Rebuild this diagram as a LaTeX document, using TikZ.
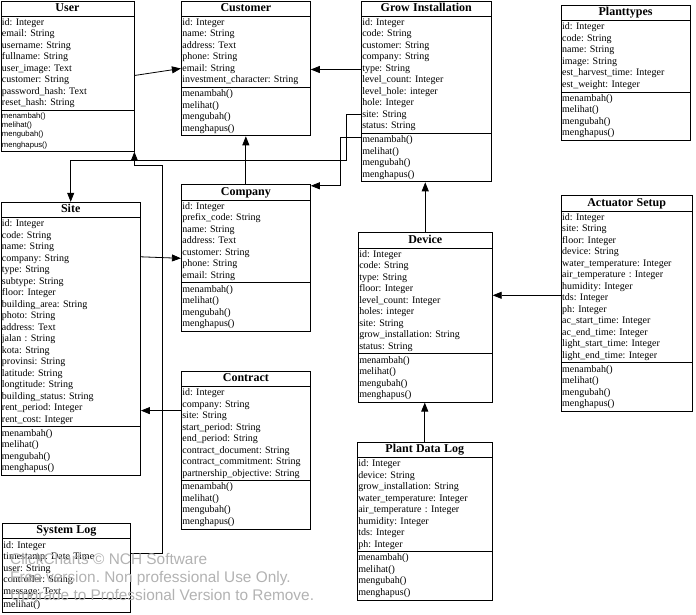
\documentclass[tikz,border=0pt]{standalone}
\usepackage{fontspec}
\setmainfont{Liberation Serif}
\setsansfont{Liberation Sans}
\usetikzlibrary{positioning,shapes.multipart,arrows.meta}
\frenchspacing

\begin{document}
\begin{tikzpicture}[x=1pt,y=-1pt,
    cls/.style={rectangle split,rectangle split parts=3,draw,line width=0.9pt,
        inner xsep=1pt,inner ysep=0.7pt,align=left,anchor=north west,
        font=\fontsize{10}{11.5}\selectfont},
    link/.style={-{Triangle[length=9pt,width=7pt]},line width=0.8pt},
    watermark/.style={text=black!30,font=\sffamily\fontsize{15.4}{18}\selectfont,
        align=left,inner sep=0pt,anchor=north west}]
    \useasboundingbox (0,0) rectangle (696,614);
    % top row
    \node[cls,text width=131pt] (user) at (0.5,0.5) {\makebox[\linewidth]{\fontsize{12}{13}\selectfont\bfseries\strut User}
        \nodepart{two}\strut id: Integer\\email: String\\username: String\\fullname: String\\user\_image: Text\\customer: String\\password\_hash: Text\\reset\_hash: String\strut
        \nodepart{three}\sffamily\fontsize{7.7}{9}\selectfont\strut menambah()\\melihat()\\mengubah()\\menghapus()\strut};
    \node[cls,text width=127pt] (customer) [right=46.5pt of user.north east,anchor=north west] {\makebox[\linewidth]{\fontsize{12}{13}\selectfont\bfseries\strut Customer}
        \nodepart{two}\strut id: Integer\\name: String\\address: Text\\phone: String\\email: String\\investment\_character: String\strut
        \nodepart{three}\strut menambah()\\melihat()\\mengubah()\\menghapus()\strut};
    \node[cls,text width=128pt] (grow) [right=50pt of customer.north east,anchor=north west] {\makebox[\linewidth]{\fontsize{12}{13}\selectfont\bfseries\strut Grow Installation}
        \nodepart{two}\strut id: Integer\\code: String\\customer: String\\company: String\\type: String\\level\_count: Integer\\level\_hole: integer\\hole: Integer\\site: String\\status: String\strut
        \nodepart{three}\strut menambah()\\melihat()\\mengubah()\\menghapus()\strut};
    \node[cls,text width=127pt] (plant) [below right=4.5pt and 69pt of grow.north east] {\makebox[\linewidth]{\fontsize{12}{13}\selectfont\bfseries\strut Planttypes}
        \nodepart{two}\strut id: Integer\\code: String\\name: String\\image: String\\est\_harvest\_time: Integer\\est\_weight: Integer\strut
        \nodepart{three}\strut menambah()\\melihat()\\mengubah()\\menghapus()\strut};
    % middle and bottom
    \node[cls,text width=137.5pt] (site) [below right=50pt and 0pt of user.south west] {\makebox[\linewidth]{\fontsize{12}{13}\selectfont\bfseries\strut Site}
        \nodepart{two}\strut id: Integer\\code: String\\name: String\\company: String\\type: String\\subtype: String\\floor: Integer\\building\_area: String\\photo: String\\address: Text\\jalan : String\\kota: String\\provinsi: String\\latitude: String\\longtitude: String\\building\_status: String\\rent\_period: Integer\\rent\_cost: Integer\strut
        \nodepart{three}\strut menambah()\\melihat()\\mengubah()\\menghapus()\strut};
    \node[cls,text width=127pt] (company) [below right=48pt and 0pt of customer.south west] {\makebox[\linewidth]{\fontsize{12}{13}\selectfont\bfseries\strut Company}
        \nodepart{two}\strut id: Integer\\prefix\_code: String\\name: String\\address: Text\\customer: String\\phone: String\\email: String\strut
        \nodepart{three}\strut menambah()\\melihat()\\mengubah()\\menghapus()\strut};
    \node[cls,text width=127pt] (contract) [below right=39pt and 0pt of company.south west] {\makebox[\linewidth]{\fontsize{12}{13}\selectfont\bfseries\strut Contract}
        \nodepart{two}\strut id: Integer\\company: String\\site: String\\start\_period: String\\end\_period: String\\contract\_document: String\\contract\_commitment: String\\partnership\_objective: String\strut
        \nodepart{three}\strut menambah()\\melihat()\\mengubah()\\menghapus()\strut};
    \node[cls,text width=126pt] (syslog) [below right=47.5pt and 1.5pt of site.south west] {\makebox[\linewidth]{\fontsize{12}{13}\selectfont\bfseries\strut System Log}
        \nodepart{two}\strut id: Integer\\timestamp: Date Time\\user: String\\controller: String\\message: Text\strut
        \nodepart{three}\strut melihat()\strut};
    \node[cls,text width=132pt] (device) [below right=50pt and -3pt of grow.south west] {\makebox[\linewidth]{\fontsize{12}{13}\selectfont\bfseries\strut Device}
        \nodepart{two}\strut id: Integer\\code: String\\type: String\\floor: Integer\\level\_count: Integer\\holes: integer\\site: String\\grow\_installation: String\\status: String\strut
        \nodepart{three}\strut menambah()\\melihat()\\mengubah()\\menghapus()\strut};
    \node[cls,text width=129pt] (actuator) [below right=54.5pt and 0pt of plant.south west] {\makebox[\linewidth]{\fontsize{12}{13}\selectfont\bfseries\strut Actuator Setup}
        \nodepart{two}\strut id: Integer\\site: String\\floor: Integer\\device: String\\water\_temperature: Integer\\air\_temperature : Integer\\humidity: Integer\\tds: Integer\\ph: Integer\\ac\_start\_time: Integer\\ac\_end\_time: Integer\\light\_start\_time: Integer\\light\_end\_time: Integer\strut
        \nodepart{three}\strut menambah()\\melihat()\\mengubah()\\menghapus()\strut};
    \node[cls,text width=133pt] (plantlog) [below right=39pt and -1pt of device.south west] {\makebox[\linewidth]{\fontsize{12}{13}\selectfont\bfseries\strut Plant Data Log}
        \nodepart{two}\strut id: Integer\\device: String\\grow\_installation: String\\water\_temperature: Integer\\air\_temperature : Integer\\humidity: Integer\\tds: Integer\\ph: Integer\strut
        \nodepart{three}\strut menambah()\\melihat()\\mengubah()\\menghapus()\strut};
    % connectors
    \draw[link] ([yshift=-75pt]user.north east) -- ([yshift=-68pt]customer.north west);
    \draw[link] ([yshift=-69pt]grow.north west) coordinate (g1) -- (g1 -| customer.east);
    \draw[link] (company.north) -- (customer.south);
    \draw[link] ([yshift=-137pt]grow.north west) -- ++(-20,0) |- ([yshift=-1.5pt]company.north east);
    \draw[link] ([yshift=-114pt]grow.north west) -- ++(-14,0) -- ++(0,46) -| (site.north);
    \draw[link] ([yshift=-30pt]syslog.north east) -| ([xshift=27.5pt,yshift=-14pt]user.south east) -| (user.south east);
    \draw[link] ([yshift=-55pt]site.north east) -- ([yshift=-74pt]company.north west);
    \draw[link] ([yshift=-40pt]contract.north west) coordinate (c1) -- (c1 -| site.east);
    \draw[link] (device.north) -- (device.north |- grow.south);
    \draw[link] ([yshift=-100pt]actuator.north west) coordinate (a1) -- (a1 -| device.east);
    \draw[link] (plantlog.north) -- (plantlog.north |- device.south);
    % watermark
    \node[watermark] (wm) at (10,553) {ClickCharts © NCH Software\\Free version. Non professional Use Only.\\Upgrade to Professional Version to Remove.};
\end{tikzpicture}
\end{document}
